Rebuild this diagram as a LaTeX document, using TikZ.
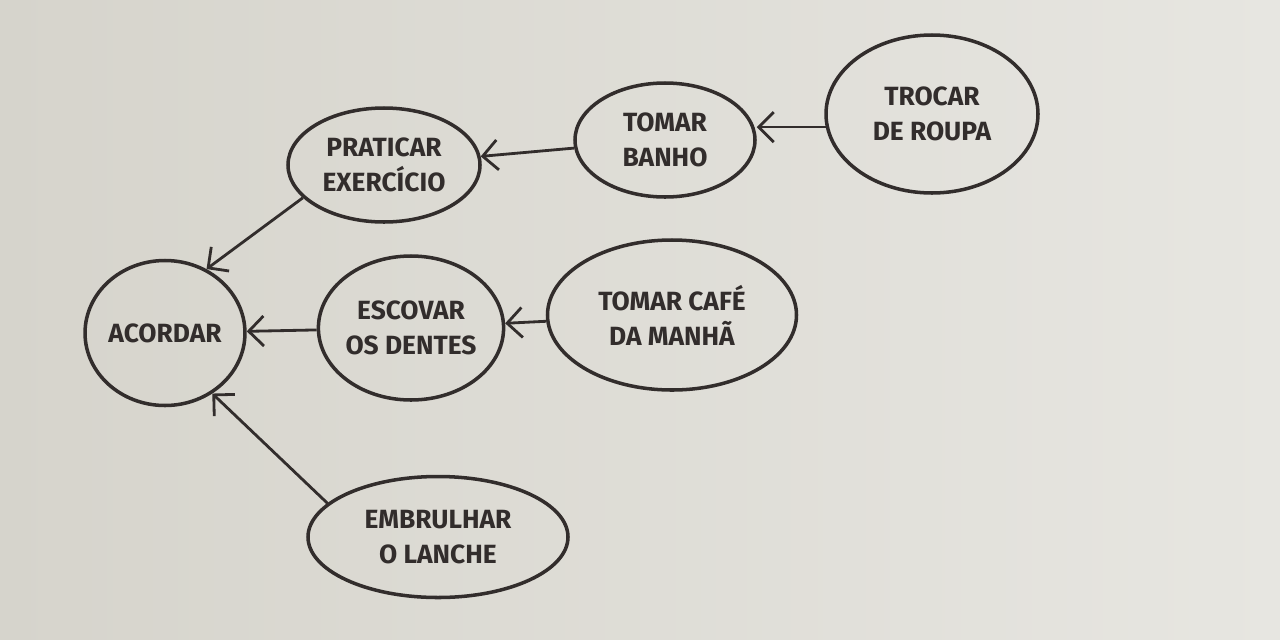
\documentclass[tikz,border=0pt]{standalone}
\usepackage{fontspec}
\setmainfont{Fira Sans}
\usepackage{tikz}
\usetikzlibrary{arrows.meta,shapes}
\definecolor{paper}{RGB}{214,212,204}
\definecolor{paperlight}{RGB}{231,230,225}
\definecolor{ink}{RGB}{50,45,44}

\begin{document}
\begin{tikzpicture}[>={Straight Barb[length=3mm,width=6mm]},
  blob/.style={draw=ink,ellipse,line width=2pt,inner sep=0pt,align=center,text=ink,font=\bfseries\fontsize{15}{20}\selectfont}]
\shade[left color=paper,right color=paperlight] (0,0) rectangle (25.6,-12.78);
\node[blob,minimum width=2.9cm,minimum height=2.9cm] (acordar) at (3.3,-6.66) {ACORDAR};
\node[blob,minimum width=3.84cm,minimum height=2.28cm] (praticar) at (7.68,-3.3) {PRATICAR\\EXERCÍCIO};
\node[blob,minimum width=3.6cm,minimum height=2.28cm] (banho) at (13.3,-2.8) {TOMAR\\BANHO};
\node[blob,minimum width=4.24cm,minimum height=3.16cm] (trocar) at (18.64,-2.28) {TROCAR\\DE ROUPA};
\node[blob,minimum width=3.54cm,minimum height=2.88cm] (escovar) at (8.22,-6.56) {ESCOVAR\\OS DENTES};
\node[blob,minimum width=4.98cm,minimum height=3.0cm] (cafe) at (13.44,-6.3) {TOMAR CAFÉ\\DA MANHÃ};
\node[blob,minimum width=5.2cm,minimum height=2.42cm] (lanche) at (8.76,-10.74) {EMBRULHAR\\O LANCHE};
\draw[->,ink,line width=1.6pt] (trocar.187)--(banho.east |- trocar.187); \draw[->,ink,line width=1.6pt] (banho)--(praticar);
\draw[->,ink,line width=1.6pt] (praticar.202)--(acordar.57); \draw[->,ink,line width=1.6pt] (escovar)--(acordar);
\draw[->,ink,line width=1.6pt] (cafe)--(escovar); \draw[->,ink,line width=1.6pt] (lanche.163)--(acordar.-52);
\end{tikzpicture}
\end{document}
